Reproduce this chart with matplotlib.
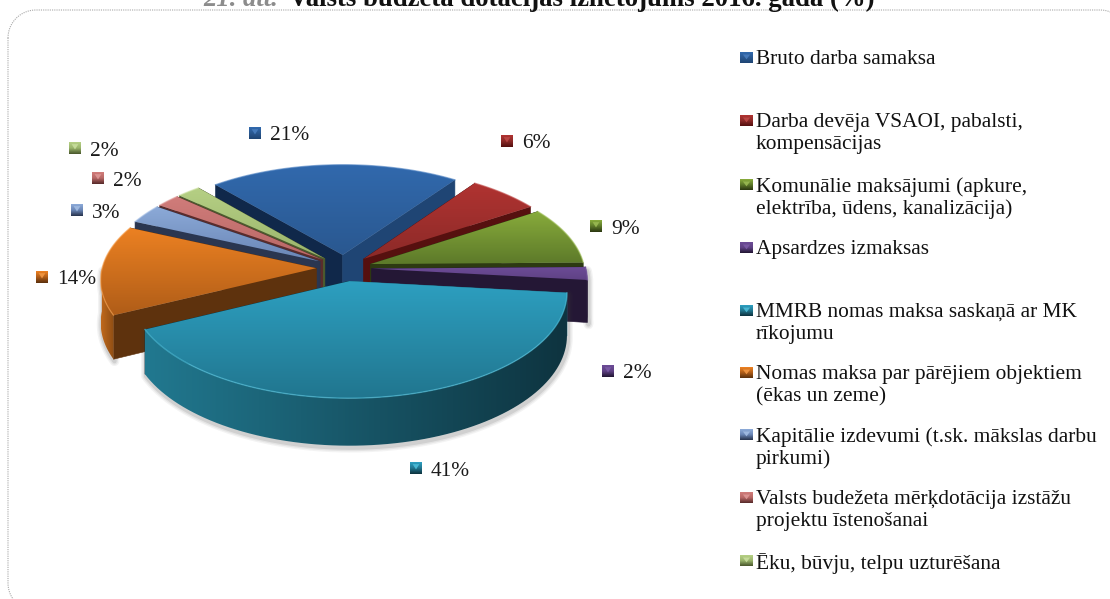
import matplotlib
matplotlib.use("Agg")
import matplotlib.pyplot as plt
import numpy as np
from matplotlib.patches import Polygon
from matplotlib.colors import to_rgb, LinearSegmentedColormap

plt.rcParams['font.family'] = ['Liberation Serif', 'DejaVu Serif']

# Dati
categories = ["Bruto darba samaksa",
              "Darba devēja VSAOI, pabalsti,\nkompensācijas",
              "Komunālie maksājumi (apkure,\nelektrība, ūdens, kanalizācija)",
              "Apsardzes izmaksas",
              "MMRB nomas maksa saskaņā ar MK\nrīkojumu",
              "Nomas maksa par pārējiem objektiem\n(ēkas un zeme)",
              "Kapitālie izdevumi (t.sk. mākslas darbu\npirkumi)",
              "Valsts budežeta mērķdotācija izstāžu\nprojektu īstenošanai",
              "Ēku, būvju, telpu uzturēšana"]
values = [21, 6, 9, 2, 41, 14, 3, 2, 2]

top_light = ["#3169ad", "#b03331", "#88ab3b", "#6c4b96", "#2d9fc0", "#ec8122", "#8caad8", "#d07c7a", "#b5cf84"]
top_dark = ["#2a5890", "#8c2a28", "#5d7a2a", "#5f4285", "#21768f", "#b05d18", "#6a86b6", "#b86866", "#9ab56c"]
wall_start = ["#10284a", "#56100f", "#2d3a12", "#241735", "#21788f", "#5e320d", "#2a3650", "#5a2c2c", "#4c5a2e"]
wall_end = ["#1f4574", "#56100f", "#2d3a12", "#241735", "#0e3440", "#5e320d", "#2a3650", "#5a2c2c", "#4c5a2e"]
outer_left = ["#1f4574", "#56100f", "#2d3a12", "#2a1c3e", "#21788f", "#c0691c", "#2a3650", "#5a2c2c", "#4c5a2e"]
outer_right = ["#1f4574", "#56100f", "#2d3a12", "#21152f", "#0e3440", "#8e4d14", "#2a3650", "#5a2c2c", "#4c5a2e"]
rim = ["#4a7fc0", "#c04a48", "#9dbd55", "#7d5ca8", "#4fc0dc", "#f59a45", "#a5bfe5", "#e09a98", "#cbe0a0"]

# Iezīmju novietojums
label_xy = [(255, 133), (507, 141), (596, 226), (608, 371), (416, 468), (42, 277), (77, 210), (98, 178), (75, 148)]
legend_y = [57, 120, 184, 247, 310, 372, 434, 497, 560]

# Projekcija
CX, CY = 344, 268
A, B = 214, 102
K = 0.103
EXPL = 0.13
DEPTH = 42
START = -40.5


def project(u, v, z=0.0):
    s = 1 / (1 + K * v)
    return CX + A * u * s, CY - B * v * s + DEPTH * z * s


fig = plt.figure(figsize=(11.10, 5.99), dpi=100)
ax = fig.add_axes([0, 0, 1, 1])
ax.axis("off")
zo = [2]


def next_z():
    zo[0] += 1
    return zo[0]


def gradient_fill(points, c0, c1, vertical=True):
    points = np.array(points)
    z = next_z()
    patch = Polygon(points, closed=True, facecolor="none", edgecolor="none", zorder=z)
    ax.add_patch(patch)
    cmap = LinearSegmentedColormap.from_list("g", [to_rgb(c0), to_rgb(c1)])
    grad = np.linspace(0, 1, 64)
    grad = grad[:, None] if vertical else grad[None, :]
    x0, x1 = points[:, 0].min(), points[:, 0].max()
    y0, y1 = points[:, 1].min(), points[:, 1].max()
    im = ax.imshow(grad, extent=(x0, x1, y1, y0), origin="upper", aspect="auto",
                   cmap=cmap, vmin=0, vmax=1, zorder=z, interpolation="bilinear")
    im.set_clip_path(patch)


def soft_shadow(points):
    for lw, al in [(7, 0.06), (5, 0.08), (3, 0.12)]:
        ax.add_patch(Polygon(np.array(points) + [1, 2], closed=True, facecolor="none",
                             edgecolor="#404040", lw=lw, alpha=al, zorder=next_z(), joinstyle="round"))


def draw_slice(i, t1, t2):
    mid = np.radians((t1 + t2) / 2)
    du, dv = EXPL * np.sin(mid), EXPL * np.cos(mid)
    th = np.radians(np.linspace(t1, t2, 80))
    us, vs = du + np.sin(th), dv + np.cos(th)
    apex = project(du, dv)
    apex_b = project(du, dv, 1)
    top_arc = [project(u, v) for u, v in zip(us, vs)]
    start_b = project(us[0], vs[0], 1)
    end_b = project(us[-1], vs[-1], 1)

    # ārējā siena, tikai skatītāja pusē
    front = np.cos(th) < 0
    outer = None
    if front.any():
        a = [project(u, v) for u, v in zip(us[front], vs[front])]
        b = [project(u, v, 1) for u, v in zip(us[front], vs[front])]
        outer = a + b[::-1]
        soft_shadow(outer)
    wall1 = [apex, top_arc[0], start_b, apex_b]
    wall2 = [apex, top_arc[-1], end_b, apex_b]
    ax.add_patch(Polygon(wall1, closed=True, facecolor=wall_start[i], edgecolor=wall_start[i], lw=0.4, zorder=next_z()))
    ax.add_patch(Polygon(wall2, closed=True, facecolor=wall_end[i], edgecolor=wall_end[i], lw=0.4, zorder=next_z()))
    if outer is not None:
        gradient_fill(outer, outer_left[i], outer_right[i], vertical=False)
    gradient_fill([apex] + top_arc, top_light[i], top_dark[i])
    xs, ys = zip(*top_arc)
    ax.plot(xs, ys, color=rim[i], lw=1.0, alpha=0.6, zorder=next_z())


# Sektori
shares = np.array(values) / sum(values) * 360
ends = START + np.cumsum(shares)
starts = ends - shares
mids = np.radians((starts + ends) / 2)
for i in np.argsort(-np.cos(mids)):
    draw_slice(i, starts[i], ends[i])


def bevel_marker(x, y, i, w=12, h=12):
    z = next_z()
    cmap = LinearSegmentedColormap.from_list("m", [to_rgb(top_light[i]), to_rgb(top_dark[i]), to_rgb(wall_end[i])])
    ax.imshow(np.linspace(0, 1, 16)[:, None], extent=(x - w / 2, x + w / 2, y + h / 2, y - h / 2),
              origin="upper", aspect="auto", cmap=cmap, vmin=0, vmax=1, zorder=z)
    ax.add_patch(Polygon([(x - w * 0.28, y - h * 0.32), (x + w * 0.28, y - h * 0.32), (x, y + h * 0.12)], closed=True,
                         facecolor=rim[i], edgecolor="none", alpha=0.85, zorder=next_z()))


# Datu iezīmes
for i, (x, y) in enumerate(label_xy):
    bevel_marker(x, y, i)
    ax.text(x + 15, y + 3, f"{values[i]}%", fontsize=15.4, color="#1a1a1a", ha="left", va="center", zorder=next_z())

# Leģenda
for i, name in enumerate(categories):
    bevel_marker(746.5, legend_y[i] + 1, i, w=13, h=11)
    ax.text(756, legend_y[i] - 7, name, fontsize=15.4, color="#111111", ha="left", va="top",
            linespacing=1.2, zorder=next_z())

# Rāmis ar noapaļotiem stūriem
L, T, R, D, RAD = 8, 10, 1128, 611, 28
corners = [(L + RAD, T + RAD, 180, 270), (R - RAD, T + RAD, 270, 360), (R - RAD, D - RAD, 0, 90), (L + RAD, D - RAD, 90, 180)]
frame = []
for cx, cy, a0, a1 in corners:
    ang = np.radians(np.linspace(a0, a1, 24))
    frame += list(zip(cx + RAD * np.cos(ang), cy + RAD * np.sin(ang)))
ax.add_patch(Polygon(frame, closed=True, facecolor="none", edgecolor="#a8a8a8", lw=0.8, linestyle=(0, (1, 1)), zorder=1))

# Virsraksts
ax.text(203, 6, "21. att.", fontsize=19.2, fontweight="bold", fontstyle="italic", color="#8c8c8c", ha="left", va="baseline")
ax.text(289, 6, "Valsts budžeta dotācijas izlietojums 2016. gada (%)", fontsize=19.3, fontweight="bold",
        color="#111111", ha="left", va="baseline")

ax.set_xlim(0, 1110)
ax.set_ylim(599, 0)
fig.savefig("out.png", dpi=100)
